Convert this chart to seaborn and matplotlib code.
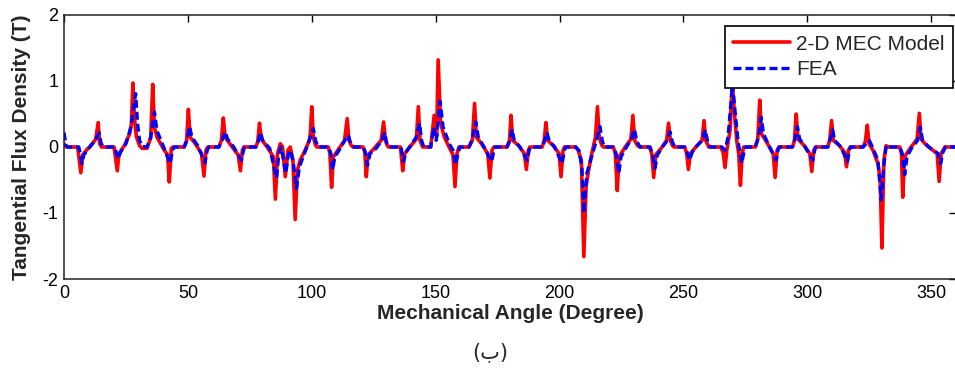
import numpy as np
import pandas as pd
import matplotlib
matplotlib.use("Agg")
import matplotlib.pyplot as plt
import seaborn as sns

# breakpoints: 2-D MEC model (red)
mec_angle = [0, 1, 5.5, 6.8, 7.6, 9, 11.5, 12.8, 13.8, 14.4, 15.1, 20.2, 21.5, 22.2, 24.5, 26.5, 27.2, 27.8, 28.4, 29.2,
             30.5, 31.5, 33.5, 35, 35.8, 36.5, 37.5, 40.5, 41.8, 42.5, 43.3, 44, 48.5, 49.5, 50.2, 50.9, 53, 55.5, 56.5, 57.3,
             58, 62.5, 63.5, 64.3, 65, 67.5, 70.3, 71.2, 72, 72.6, 77.4, 78.2, 78.9, 79.6, 82, 84.5, 85.3, 86.2, 87.3, 88.2,
             89.3, 90.4, 91.3, 92.4, 93.3, 94.2, 95.3, 97.3, 99, 99.4, 100, 100.6, 101.5, 102, 106.7, 107.3, 108, 108.7, 110.5,
             113.2, 114.3, 115, 116, 116.7, 120.7, 121.4, 122, 122.7, 125, 128, 129, 129.7, 130.5, 131, 135.8, 136.7, 137.5,
             140, 142.2, 143, 143.7, 144.7, 148, 149.4, 150.4, 151, 152, 153.5, 155.4, 157, 157.8, 158.6, 159.4, 163.4,
             164.8, 165.7, 166.4, 168.5, 171, 171.9, 172.7, 173.5, 178.8, 179.8, 180.4, 181.1, 183.5, 185.8, 186.6, 187.4,
             188, 193, 193.8, 194.5, 195.2, 197.5, 199.8, 200.6, 201.4, 202, 206.5, 207.5, 208.8, 209.8, 210.7, 211.5, 213,
             214.5, 215.3, 216, 217, 217.6, 221.7, 222.5, 223.3, 224, 226.5, 228.8, 229.6, 230.3, 231.5, 232.3, 236.3, 237.2,
             238, 238.8, 241, 243.2, 244, 244.7, 245.6, 246.2, 250.5, 251.3, 252, 252.8, 255, 257.5, 258.3, 259, 260.2, 265,
             266, 266.8, 267.5, 268.8, 269.7, 270.6, 271.5, 272.3, 273, 273.7, 274.3, 279, 280, 280.8, 281.5, 283.5, 286.2,
             287, 287.8, 288.5, 294, 294.8, 295.5, 296.2, 298.5, 301, 301.8, 302.6, 303.3, 308.2, 309, 309.8, 310.5, 313, 315,
             315.8, 316.6, 317.3, 322.5, 323.4, 324.2, 324.9, 326.5, 328.5, 329.4, 330.1, 330.9, 331.8, 332.5, 337.3, 338,
             338.5, 339.2, 341.5, 344.3, 345.2, 345.9, 348, 352.4, 353.2, 354, 355.5, 360]
mec_flux = [0.05, 0, 0, -0.39, -0.12, -0.05, 0.05, 0.12, 0.37, 0.05, 0, 0, -0.36, -0.1, 0.03, 0.2, 0.35, 0.97, 0.45, 0.16,
            0.02, -0.02, -0.02, 0.14, 0.95, 0.3, 0.15, -0.05, -0.12, -0.53, -0.02, 0, 0, 0.1, 0.57, 0.15, 0.05, -0.1, -0.44, -0.05,
            0, 0, 0.1, 0.44, 0.15, 0.02, -0.12, -0.36, -0.05, 0, 0, 0.08, 0.36, 0.12, 0.0, -0.15, -0.79, -0.1, 0.05, 0,
            -0.45, -0.05, 0.0, -0.2, -1.1, -0.35, -0.2, -0.05, 0.1, 0.2, 0.61, 0.15, 0.03, 0, 0, -0.1, -0.61, -0.15, -0.05,
            0.1, 0.43, 0.1, 0.02, 0, 0, -0.08, -0.45, -0.12, -0.03, 0.1, 0.38, 0.1, 0.02, 0, 0, -0.36, -0.1,
            0.02, 0.12, 0.61, 0.1, 0, 0, 0.48, 0.16, 1.32, 0.36, 0.15, 0, -0.12, -0.6, -0.1, 0, 0,
            0.1, 0.66, 0.15, 0.05, -0.1, -0.47, -0.05, 0, 0, 0.1, 0.48, 0.1, 0.02, -0.1, -0.34, -0.05,
            0, 0, 0.1, 0.37, 0.1, 0.02, -0.1, -0.45, -0.05, 0, 0, -0.05, -0.2, -1.66, -0.6, -0.4, -0.1,
            0.15, 0.61, 0.15, 0.03, 0, 0, -0.1, -0.66, -0.15, 0, 0.12, 0.48, 0.1, 0.02, 0, 0, -0.1,
            -0.46, -0.12, -0.02, 0.1, 0.36, 0.1, 0.02, 0, 0, -0.1, -0.34, -0.1, 0, 0.1, 0.4, 0.1, 0, 0,
            -0.08, -0.31, -0.05, 0.25, 1.0, 0.5, 0.1, -0.1, -0.58, -0.1, 0, 0, 0.12, 0.71, 0.2, 0.08, -0.1,
            -0.46, -0.05, 0, 0, 0.1, 0.5, 0.12, 0.03, -0.1, -0.37, -0.05, 0, 0, 0.1, 0.4, 0.1, 0.02, -0.08,
            -0.3, -0.05, 0, 0, 0.08, 0.33, 0.05, -0.05, -0.25, -0.5, -1.53, -0.2, 0.02, 0, 0, -0.1,
            -0.76, -0.15, -0.02, 0.12, 0.51, 0.12, 0.03, -0.1, -0.52, -0.1, 0, 0]

# FEA (blue dashed)
fea_angle = [0, 0.8, 1.5, 6, 7.2, 8, 10, 12.5, 14.2, 15, 16, 20.5, 21.8, 22.8, 25, 27, 28.9, 29.7, 30.5, 31.5, 33.5, 35,
             36.5, 37.5, 40, 42.8, 43.8, 44.5, 48.5, 49.8, 50.7, 51.6, 54, 56.9, 57.8, 58.5, 62.5, 63.8, 65.1, 66, 68.5,
             71.6, 72.5, 73, 77.5, 78.5, 79.3, 80.2, 83, 85.8, 86.7, 87.6, 88.6, 89.5, 90.6, 91.5, 92.6, 93.8, 95, 97, 99,
             100.6, 101.5, 102.5, 106.8, 107.7, 108.4, 109.3, 111, 113, 114.7, 115.5, 116.5, 117, 120.8, 121.6, 122.5,
             123.5, 126, 128.3, 129.4, 130.3, 131.3, 136, 137, 138, 140, 142.2, 143.5, 144.3, 145.2, 148, 149.2, 150.2,
             151.8, 153, 155.5, 157, 158, 159, 159.8, 163.5, 164.8, 166.2, 167.2, 169.5, 172.6, 173.5, 174, 178.8, 180,
             180.8, 181.7, 184, 186.9, 187.8, 188.3, 193, 194, 194.9, 195.8, 198, 201, 202, 202.5, 206.5, 207.8, 209,
             209.8, 211, 212.5, 214.5, 216.3, 217.2, 218, 221.7, 222.8, 223.9, 224.8, 227, 229, 230.2, 231.2, 232.5,
             236.5, 237.5, 238.5, 239.5, 241.5, 243.5, 244.6, 245.5, 246.5, 250.5, 251.5, 252.5, 253.5, 255.5, 257.5,
             258.8, 259.8, 260.8, 265.5, 266.8, 268, 269.8, 270.8, 272, 273.5, 274.4, 275, 279, 280.3, 281.4, 282.3,
             284.5, 287.4, 288.2, 288.8, 294, 295, 296, 296.9, 299, 302.2, 303, 303.5, 308.3, 309.3, 310.2, 311, 313.5,
             316.2, 317, 317.5, 322.5, 323.8, 325, 326, 328.5, 329.8, 330.8, 331.8, 332.6, 337.3, 338.3, 339.3, 340.2,
             342, 344.5, 345.6, 346.5, 349, 352.8, 353.8, 354.7, 355.8, 360]
fea_flux = [0.22, 0.02, 0, 0, -0.25, -0.12, -0.02, 0.1, 0.21, 0.05, 0, 0, -0.18, -0.08, 0.05, 0.3, 0.81, 0.35, 0.1, 0.01, 0.0, 0.15,
            0.53, 0.25, 0.02, -0.25, -0.05, 0, 0, 0.12, 0.31, 0.15, 0.02, -0.24, -0.05, 0, 0, 0.1, 0.23, 0.12, 0.0,
            -0.2, -0.04, 0, 0, 0.1, 0.22, 0.1, -0.02, -0.47, -0.1, 0, -0.2, -0.4, -0.1, -0.05, -0.25, -0.63, -0.3, -0.1, 0.1,
            0.28, 0.1, 0, 0, -0.1, -0.35, -0.15, -0.05, 0.08, 0.18, 0.08, 0.01, 0, 0, -0.08, -0.28,
            -0.1, -0.02, 0.1, 0.22, 0.05, 0, 0, -0.22, -0.08, 0.03, 0.15, 0.36, 0.1, 0, 0, 0.3, 0.1,
            0.69, 0.3, 0.05, -0.05, -0.27, -0.1, 0, 0, 0.12, 0.38, 0.15, 0.0, -0.22, -0.05, 0, 0, 0.1,
            0.27, 0.1, 0.0, -0.2, -0.04, 0, 0, 0.1, 0.22, 0.1, 0, -0.25, -0.05, 0, 0, -0.05, -0.3,
            -1.0, -0.4, -0.2, 0.05, 0.31, 0.1, 0, 0, -0.1, -0.4, -0.15, 0.0, 0.12, 0.27, 0.08, 0,
            0, -0.1, -0.32, -0.12, 0, 0.1, 0.23, 0.08, 0, 0, -0.08, -0.2, -0.08, 0.02, 0.1,
            0.26, 0.08, 0, 0, -0.05, 0.15, 0.95, 0.55, 0.1, -0.25, -0.08, 0, 0, 0.15, 0.45, 0.2,
            0.02, -0.2, -0.04, 0, 0, 0.12, 0.31, 0.12, 0.01, -0.2, -0.04, 0, 0, 0.12, 0.26, 0.1, 0,
            -0.22, -0.04, 0, 0, 0.05, 0.1, 0.02, -0.2, -0.8, -0.3, 0.02, 0, 0, -0.1, -0.42, -0.15,
            -0.02, 0.1, 0.3, 0.1, 0, -0.1, -0.25, -0.08, 0, 0]

x_ticks = [0, 50, 100, 150, 200, 250, 300, 350]
y_ticks = [-2, -1, 0, 1, 2]

mec = pd.DataFrame({"angle": mec_angle, "flux": mec_flux})
fea = pd.DataFrame({"angle": fea_angle, "flux": fea_flux})

sns.set_style("white")
plt.rcParams["font.family"] = ["Liberation Sans", "DejaVu Sans"]
plt.rcParams["axes.unicode_minus"] = False

fig = plt.figure(figsize=(9.55, 3.7), dpi=100)
ax = fig.add_axes([64 / 955, 1 - 279 / 370, 892 / 955, 264 / 370])

sns.lineplot(data=mec, x="angle", y="flux", ax=ax, color="#ff0000", lw=2.6,
             estimator=None, label="2-D MEC Model")
sns.lineplot(data=fea, x="angle", y="flux", ax=ax, color="#0000ff", lw=2.4,
             linestyle=(0, (2.4, 1.2)), estimator=None, label="FEA")

ax.set_xlim(0, 360)
ax.set_ylim(-2, 2)
ax.set_xticks(x_ticks)
ax.set_yticks(y_ticks)
ax.tick_params(direction="in", length=5, width=1, top=True, right=True,
               labelsize=13, pad=4, colors="black")
for s in ax.spines.values():
    s.set_linewidth(1.1)
    s.set_color("#222222")

ax.set_xlabel("Mechanical Angle (Degree)", fontsize=15, fontweight="bold", labelpad=2)
ax.set_ylabel("Tangential Flux Density (T)", fontsize=15, fontweight="bold", labelpad=8)

leg = ax.legend(loc="upper right", bbox_to_anchor=(953 / 955, 1 - 26 / 370),
                bbox_transform=fig.transFigure, borderaxespad=0, fontsize=15,
                frameon=True, fancybox=False, framealpha=1, edgecolor="black",
                handlelength=2.7, handletextpad=0.3, labelspacing=0.32, borderpad=0.42)
leg.get_frame().set_linewidth(1.2)

fig.text(490 / 955, 1 - 352 / 370, "(ب)", ha="center", va="center", fontsize=15,
         family=["DejaVu Sans"])

fig.savefig("out.png", dpi=100)
